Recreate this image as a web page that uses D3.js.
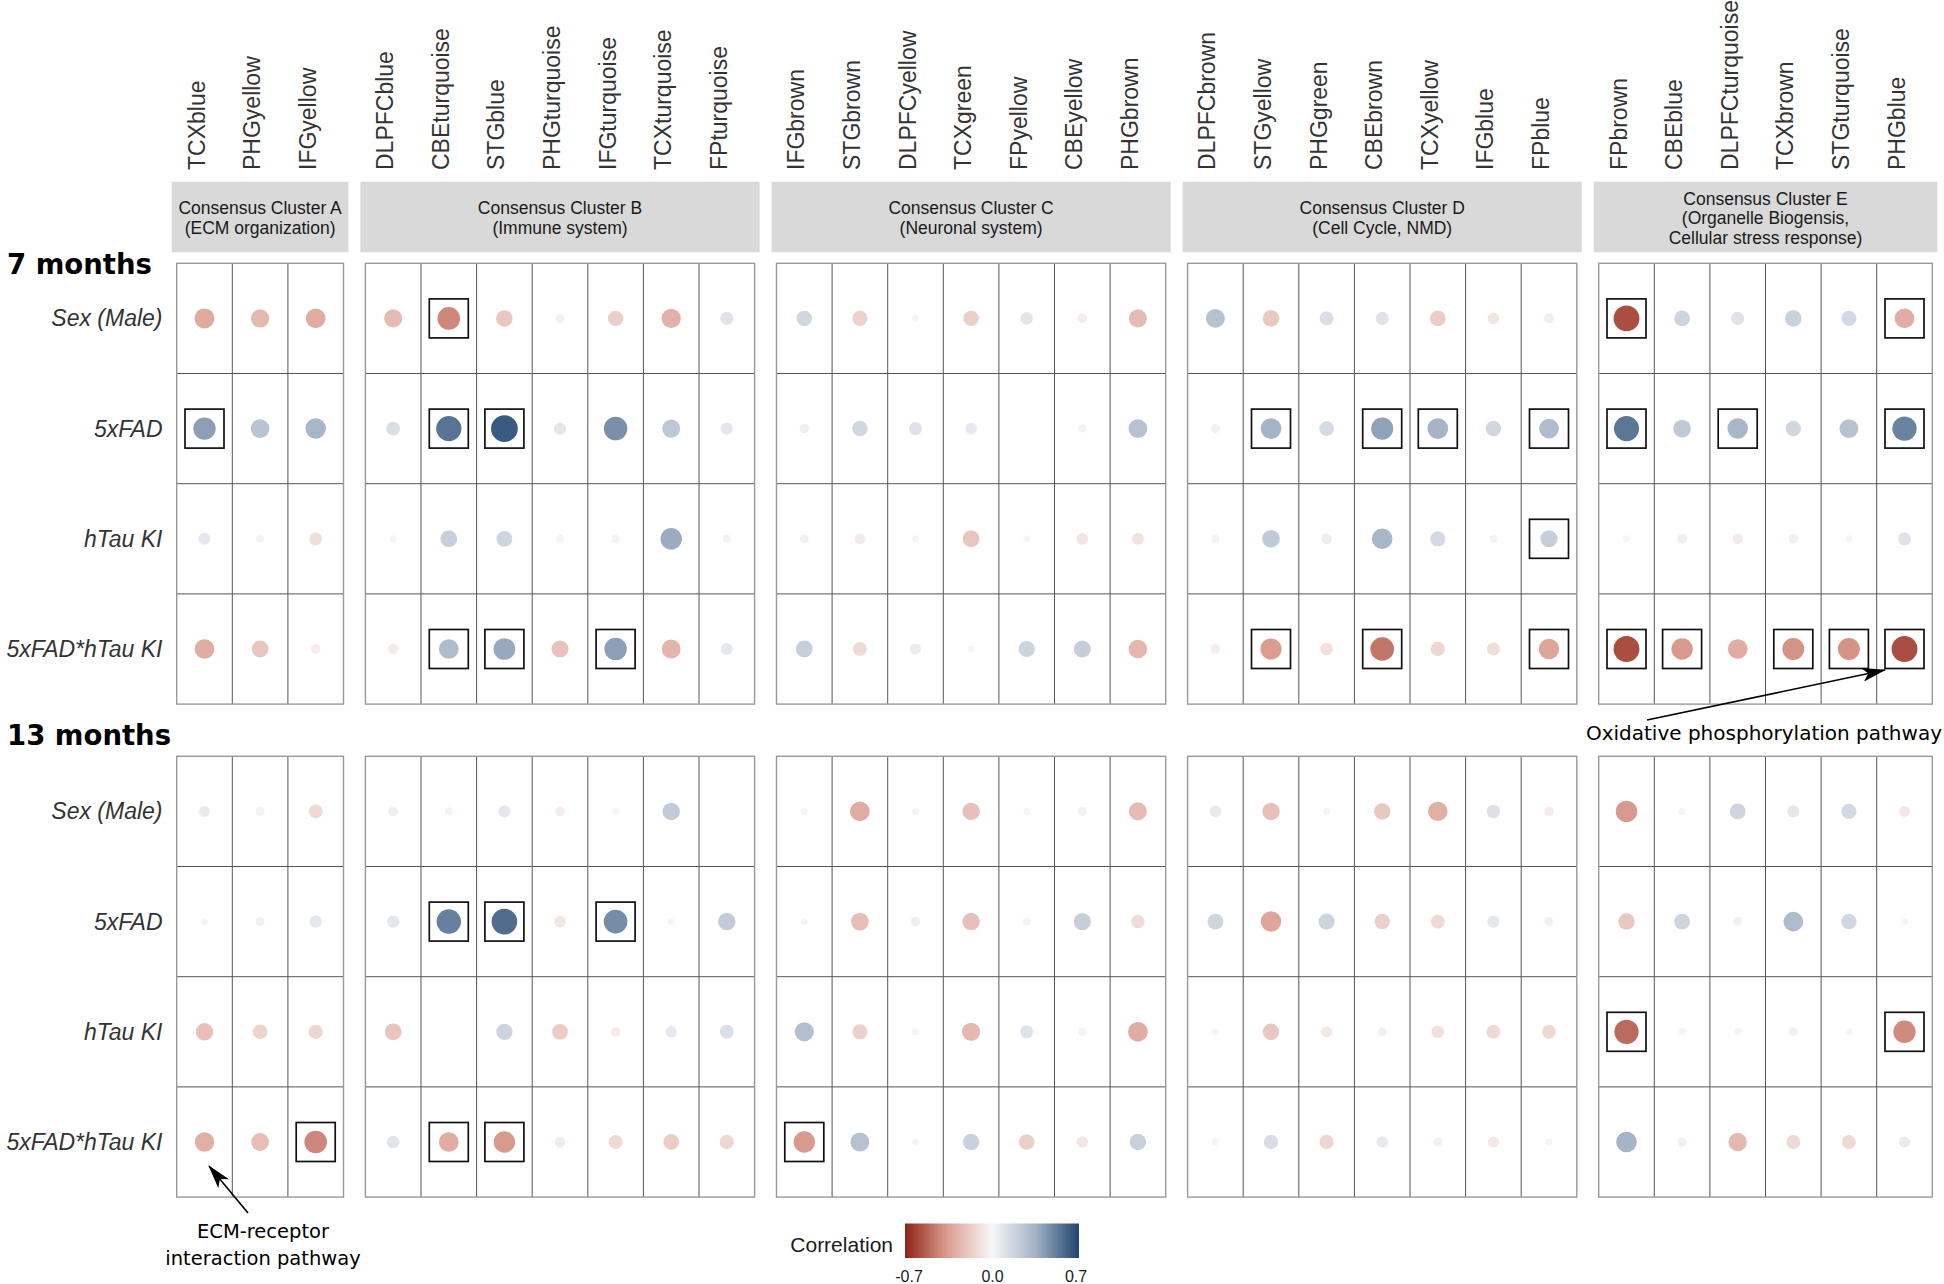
<!DOCTYPE html>
<html>
<head>
<meta charset="utf-8">
<script src="https://cdn.jsdelivr.net/npm/d3@7"></script>
<style>
  body { margin: 0; background: #fff; }
  svg { display: block; font-family: "Liberation Sans", Arial, sans-serif; }
</style>
</head>
<body>
<div id="chart"></div>
<script>
// ---- data -------------------------------------------------------------
const clusterTitles = [
  ["Consensus Cluster A", "(ECM organization)"],
  ["Consensus Cluster B", "(Immune system)"],
  ["Consensus Cluster C", "(Neuronal system)"],
  ["Consensus Cluster D", "(Cell Cycle, NMD)"],
  ["Consensus Cluster E", "(Organelle Biogensis,", "Cellular stress response)"]
];

const clusterModules = [
  ["TCXblue", "PHGyellow", "IFGyellow"],
  ["DLPFCblue", "CBEturquoise", "STGblue", "PHGturquoise", "IFGturquoise", "TCXturquoise", "FPturquoise"],
  ["IFGbrown", "STGbrown", "DLPFCyellow", "TCXgreen", "FPyellow", "CBEyellow", "PHGbrown"],
  ["DLPFCbrown", "STGyellow", "PHGgreen", "CBEbrown", "TCXyellow", "IFGblue", "FPblue"],
  ["FPbrown", "CBEblue", "DLPFCturquoise", "TCXbrown", "STGturquoise", "PHGblue"]
];

const traitLabels = ["Sex (Male)", "5xFAD", "hTau KI", "5xFAD*hTau KI"];
const timepointLabels = ["7 months", "13 months"];

// correlations, one row per trait, columns in module order (A..E)
const corr7 = [
  [-0.31, -0.25, -0.30, -0.24, -0.42, -0.19, -0.03, -0.16, -0.28, 0.10, 0.16, -0.15, 0.01, -0.16, 0.09, -0.04, -0.24, 0.27, -0.19, 0.12, 0.10, -0.17, -0.07, -0.04, -0.58, 0.17, 0.10, 0.19, 0.15, -0.30],
  [0.41, 0.26, 0.33, 0.12, 0.55, 0.63, 0.08, 0.46, 0.24, 0.08, 0.04, 0.16, 0.10, 0.07, null, 0.02, 0.27, 0.03, 0.34, 0.14, 0.40, 0.34, 0.16, 0.30, 0.54, 0.23, 0.33, 0.16, 0.27, 0.50],
  [0.08, 0.02, -0.10, 0.01, 0.20, 0.17, 0.02, -0.02, 0.37, 0.02, -0.03, -0.05, -0.01, -0.20, -0.01, -0.07, -0.08, 0.02, 0.23, 0.05, 0.33, 0.15, -0.02, 0.21, 0.01, -0.04, -0.05, -0.04, 0.01, 0.10],
  [-0.30, -0.20, -0.04, -0.05, 0.30, 0.38, -0.21, 0.41, -0.27, 0.08, 0.20, -0.12, 0.06, 0.01, 0.18, 0.21, -0.26, -0.04, -0.36, -0.09, -0.47, -0.13, -0.10, -0.33, -0.58, -0.37, -0.30, -0.39, -0.39, -0.58]
];

const corr13 = [
  [0.06, -0.03, -0.12, 0.04, -0.02, 0.08, -0.04, 0.01, 0.22, null, 0.01, -0.30, 0.01, -0.22, -0.01, 0.03, -0.24, 0.07, -0.22, 0.01, -0.19, -0.29, 0.11, -0.04, -0.37, -0.01, 0.17, 0.08, 0.15, -0.06],
  [0.01, -0.03, 0.08, 0.08, 0.51, 0.57, -0.07, 0.47, 0.01, 0.22, 0.01, -0.23, 0.04, -0.22, 0.02, 0.21, -0.11, 0.17, -0.33, 0.18, -0.16, -0.12, 0.08, -0.03, -0.19, 0.17, 0.03, 0.30, 0.16, 0.01],
  [-0.22, -0.14, -0.13, -0.20, null, 0.18, -0.17, -0.04, 0.07, 0.12, 0.28, -0.15, 0.01, -0.25, 0.10, 0.02, -0.30, -0.01, -0.19, -0.06, -0.03, -0.09, -0.12, -0.12, -0.50, -0.01, 0.01, -0.03, 0.01, -0.41],
  [-0.29, -0.23, -0.42, 0.09, -0.30, -0.37, -0.05, -0.12, -0.17, -0.13, -0.37, 0.27, -0.01, 0.19, -0.16, -0.07, 0.19, -0.01, 0.13, -0.13, 0.07, -0.03, -0.06, 0.01, 0.34, -0.03, -0.25, -0.12, -0.12, 0.06]
];

// significant module-trait pairs (boxed), one list per trait
const sig7 = [
  ["CBEturquoise", "FPbrown", "PHGblue"],
  ["TCXblue", "CBEturquoise", "STGblue", "STGyellow", "CBEbrown", "TCXyellow", "FPblue", "FPbrown", "DLPFCturquoise", "PHGblue"],
  ["FPblue"],
  ["CBEturquoise", "STGblue", "IFGturquoise", "STGyellow", "CBEbrown", "FPblue", "FPbrown", "CBEblue", "TCXbrown", "STGturquoise", "PHGblue"]
];

const sig13 = [
  [],
  ["CBEturquoise", "STGblue", "IFGturquoise"],
  ["FPbrown", "PHGblue"],
  ["IFGyellow", "CBEturquoise", "STGblue", "IFGbrown"]
];

const legendTicks = [-0.7, 0, 0.7];

// ---- layout -----------------------------------------------------------
const width = 1944;
const height = 1284;
const gridLeft = 176.7;
const colW = 55.6;
const panelGap = 21.9;
const rowH = 110.2;
const gridTops = [263.3, 756.3];

const svg = d3.select("#chart").append("svg")
  .attr("width", width)
  .attr("height", height)
  .attr("viewBox", [0, 0, width, height]);

const color = d3.scaleLinear()
  .domain([-0.7, -0.35, 0, 0.35, 0.7])
  .range(["#8e2315", "#dda194", "#f7f7f7", "#a3b2c5", "#1f456e"])
  .clamp(true);

const radius = d3.scalePow()
  .exponent(0.5)
  .domain([0, 0.7])
  .range([2, 14])
  .clamp(true);

// one band scale per cluster panel
let offset = gridLeft;
const panels = clusterModules.map((cols, i) => {
  const x = d3.scaleBand().domain(cols).range([offset, offset + cols.length * colW]);
  offset += cols.length * colW + panelGap;
  return { title: clusterTitles[i], cols, x };
});
const bandOf = new Map();
panels.forEach((p) => p.cols.forEach((c) => bandOf.set(c, p.x)));
const modules = clusterModules.flat();

// arrow marker
svg.append("defs").append("marker")
  .attr("id", "arrow")
  .attr("markerUnits", "userSpaceOnUse")
  .attr("markerWidth", 24)
  .attr("markerHeight", 14)
  .attr("refX", 23)
  .attr("refY", 7)
  .attr("orient", "auto")
  .append("path")
  .attr("d", "M0,0 L24,7 L0,14 L6,7 Z")
  .attr("fill", "#000");

// ---- header: module names + cluster boxes ------------------------------
svg.append("g")
  .selectAll("text")
  .data(modules)
  .join("text")
  .attr("transform", (m) => `translate(${bandOf.get(m)(m) + colW / 2},170) rotate(-90)`)
  .style("font-size", "23px")
  .style("fill", "#333")
  .text((m) => m);

const header = svg.append("g")
  .selectAll("g")
  .data(panels)
  .join("g");

header.append("rect")
  .attr("x", (p) => p.x.range()[0] - 5)
  .attr("y", 181.7)
  .attr("width", (p) => p.x.range()[1] - p.x.range()[0] + 10)
  .attr("height", 70.6)
  .attr("fill", "#d9d9d9");

header.append("text")
  .attr("text-anchor", "middle")
  .style("font-size", "17.5px")
  .style("fill", "#1a1a1a")
  .selectAll("tspan")
  .data((p) => p.title.map((line, i) => ({ line, i, n: p.title.length, cx: (p.x.range()[0] + p.x.range()[1]) / 2 })))
  .join("tspan")
  .attr("x", (d) => d.cx)
  .attr("y", (d) => 218 - (d.n - 1) * 19.5 / 2 + 6 + d.i * 19.5)
  .text((d) => d.line);

// ---- grids ----------------------------------------------------------------
const timepoints = [
  { label: timepointLabels[0], values: corr7, sig: sig7, top: gridTops[0], labelY: 274 },
  { label: timepointLabels[1], values: corr13, sig: sig13, top: gridTops[1], labelY: 745 }
];

timepoints.forEach((tp) => {
  const y = d3.scaleBand().domain(traitLabels).range([tp.top, tp.top + traitLabels.length * rowH]);
  const g = svg.append("g");

  g.append("text")
    .attr("x", 7)
    .attr("y", tp.labelY)
    .style("font-family", "'DejaVu Sans', sans-serif")
    .style("font-weight", "bold")
    .style("font-size", "27.5px")
    .style("fill", "#000")
    .text(tp.label);

  g.append("g")
    .selectAll("text")
    .data(traitLabels)
    .join("text")
    .attr("x", 162.5)
    .attr("y", (t) => y(t) + rowH / 2 + 8)
    .attr("text-anchor", "end")
    .style("font-style", "italic")
    .style("font-size", "23px")
    .style("fill", "#333")
    .text((t) => t);

  panels.forEach((p) => {
    const [x0, x1] = p.x.range();
    const [y0, y1] = y.range();
    const pg = g.append("g");
    pg.append("g")
      .selectAll("line.v")
      .data(p.cols.slice(1))
      .join("line")
      .attr("x1", (c) => p.x(c)).attr("x2", (c) => p.x(c))
      .attr("y1", y0).attr("y2", y1)
      .attr("stroke", "#555").attr("stroke-width", 1);
    pg.append("g")
      .selectAll("line.h")
      .data(traitLabels.slice(1))
      .join("line")
      .attr("x1", x0).attr("x2", x1)
      .attr("y1", (t) => y(t)).attr("y2", (t) => y(t))
      .attr("stroke", "#555").attr("stroke-width", 1);
    pg.append("rect")
      .attr("x", x0).attr("y", y0)
      .attr("width", x1 - x0).attr("height", y1 - y0)
      .attr("fill", "none")
      .attr("stroke", "#999").attr("stroke-width", 1.4);
  });

  const cells = [];
  traitLabels.forEach((t, ri) => {
    modules.forEach((m, ci) => {
      const v = tp.values[ri][ci];
      cells.push({ t, m, v, sig: tp.sig[ri].includes(m) });
    });
  });

  g.append("g")
    .selectAll("circle")
    .data(cells.filter((d) => d.v !== null))
    .join("circle")
    .attr("cx", (d) => bandOf.get(d.m)(d.m) + colW / 2)
    .attr("cy", (d) => y(d.t) + rowH / 2)
    .attr("r", (d) => radius(Math.abs(d.v)))
    .attr("fill", (d) => color(d.v));

  g.append("g")
    .selectAll("rect")
    .data(cells.filter((d) => d.sig))
    .join("rect")
    .attr("x", (d) => bandOf.get(d.m)(d.m) + colW / 2 - 19.5)
    .attr("y", (d) => y(d.t) + rowH / 2 - 19.5)
    .attr("width", 39)
    .attr("height", 39)
    .attr("fill", "none")
    .attr("stroke", "#111")
    .attr("stroke-width", 1.7);
});

// ---- annotations ----------------------------------------------------------
const note = svg.append("g")
  .style("font-family", "'DejaVu Sans', sans-serif")
  .style("fill", "#000");

note.append("line")
  .attr("x1", 1647).attr("y1", 720)
  .attr("x2", 1885).attr("y2", 670)
  .attr("stroke", "#000").attr("stroke-width", 1.6)
  .attr("marker-end", "url(#arrow)");

note.append("text")
  .attr("x", 1942)
  .attr("y", 740)
  .attr("text-anchor", "end")
  .style("font-size", "20px")
  .text("Oxidative phosphorylation pathway");

note.append("line")
  .attr("x1", 248).attr("y1", 1213)
  .attr("x2", 209).attr("y2", 1166)
  .attr("stroke", "#000").attr("stroke-width", 1.6)
  .attr("marker-end", "url(#arrow)");

note.append("text")
  .attr("text-anchor", "middle")
  .style("font-size", "19.5px")
  .selectAll("tspan")
  .data(["ECM-receptor", "interaction pathway"])
  .join("tspan")
  .attr("x", 263)
  .attr("y", (d, i) => 1238 + i * 27)
  .text((d) => d);

// ---- legend ---------------------------------------------------------------
const legendX = d3.scaleLinear().domain([-0.7, 0.7]).range([909, 1076]);
const grad = svg.select("defs").append("linearGradient")
  .attr("id", "corrGrad")
  .attr("x1", "0%").attr("x2", "100%");
grad.selectAll("stop")
  .data(d3.range(0, 1.0001, 0.05))
  .join("stop")
  .attr("offset", (t) => `${t * 100}%`)
  .attr("stop-color", (t) => color(-0.7 + 1.4 * t));

svg.append("rect")
  .attr("x", 905).attr("y", 1223.5)
  .attr("width", 174).attr("height", 34.5)
  .attr("fill", "url(#corrGrad)");

svg.append("text")
  .attr("x", 893)
  .attr("y", 1252)
  .attr("text-anchor", "end")
  .style("font-size", "21px")
  .style("fill", "#1a1a1a")
  .text("Correlation");

svg.append("g")
  .selectAll("text")
  .data(legendTicks)
  .join("text")
  .attr("x", (v) => legendX(v))
  .attr("y", 1282)
  .attr("text-anchor", "middle")
  .style("font-size", "16px")
  .style("fill", "#1a1a1a")
  .text((v) => d3.format(".1f")(v).replace("\u2212", "-"));
</script>
</body>
</html>
